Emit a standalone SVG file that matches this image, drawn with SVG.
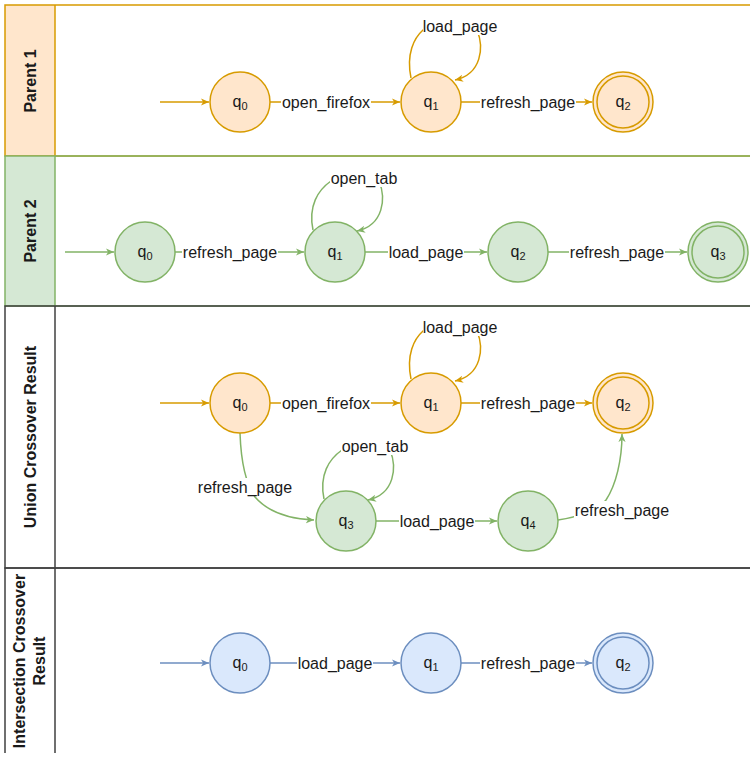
<svg xmlns="http://www.w3.org/2000/svg" width="750" height="758" viewBox="0 0 750 758">
<style>
text{font-family:"Liberation Sans",Arial,sans-serif;fill:#1a1a1a}
.hdr{font-size:16px;font-weight:bold;text-anchor:middle}
.lbl{font-size:16px;text-anchor:middle}
.st{font-size:16px;text-anchor:middle}
.sub{font-size:11px}
.lb{fill:#ffffff;stroke:none}
.o{fill:#ffe6cc;stroke:#d79b00;stroke-width:1.5}
.g{fill:#d5e8d4;stroke:#82b366;stroke-width:1.5}
.b{fill:#dae8fc;stroke:#6c8ebf;stroke-width:1.5}
.in{fill:none}
.eo{fill:none;stroke:#d79b00;stroke-width:1.5;marker-end:url(#ao)}
.eg{fill:none;stroke:#82b366;stroke-width:1.5;marker-end:url(#ag)}
.eb{fill:none;stroke:#6c8ebf;stroke-width:1.5;marker-end:url(#ab)}
.lane{fill:none;stroke-width:1.5}
</style>
<defs>
<marker id="ao" viewBox="0 0 10 10" markerWidth="9" markerHeight="9" markerUnits="userSpaceOnUse" refX="9" refY="5" orient="auto"><path d="M0,1 L9,5 L0,9 L2.5,5 Z" fill="#d79b00"/></marker>
<marker id="ag" viewBox="0 0 10 10" markerWidth="9" markerHeight="9" markerUnits="userSpaceOnUse" refX="9" refY="5" orient="auto"><path d="M0,1 L9,5 L0,9 L2.5,5 Z" fill="#82b366"/></marker>
<marker id="ab" viewBox="0 0 10 10" markerWidth="9" markerHeight="9" markerUnits="userSpaceOnUse" refX="9" refY="5" orient="auto"><path d="M0,1 L9,5 L0,9 L2.5,5 Z" fill="#6c8ebf"/></marker>
</defs>
<rect x="0" y="0" width="750" height="758" fill="#ffffff"/>

<g id="lane-parent1">
<rect x="5" y="5" width="50" height="151" fill="#ffe6cc"/>
<rect class="lane" x="5" y="5" width="760" height="151" stroke="#d79b00"/>
<line x1="55" y1="5" x2="55" y2="156" stroke="#d79b00" stroke-width="1.5"/>
<text class="hdr" transform="translate(36,81) rotate(-90)">Parent 1</text>
</g>
<g id="lane-parent2">
<rect x="5" y="156" width="50" height="150" fill="#d5e8d4"/>
<rect class="lane" x="5" y="156" width="760" height="150" stroke="#82b366"/>
<line x1="55" y1="156" x2="55" y2="306" stroke="#82b366" stroke-width="1.5"/>
<text class="hdr" transform="translate(36,231) rotate(-90)">Parent 2</text>
</g>
<g id="lane-union">
<rect class="lane" x="5" y="306" width="760" height="262" stroke="#404040"/>
<line x1="55" y1="306" x2="55" y2="568" stroke="#404040" stroke-width="1.5"/>
<text class="hdr" transform="translate(36,437) rotate(-90)">Union Crossover Result</text>
</g>
<g id="lane-intersection">
<path d="M5 753 L5 568 L760 568 M55 568 L55 753" fill="none" stroke="#404040" stroke-width="1.5"/>
<text class="hdr" transform="translate(25,661) rotate(-90)">Intersection Crossover</text>
<text class="hdr" transform="translate(45,661) rotate(-90)">Result</text>
</g>

<g id="connectors">
<!-- Parent 1 -->
<line class="eo" x1="160" y1="102" x2="209" y2="102"/>
<line class="eo" x1="270" y1="102" x2="400" y2="102"/>
<line class="eo" x1="461" y1="102" x2="592" y2="102"/>
<path class="eo" d="M411 78 C406 54 414 38 423 30 L477 30 C484 47 482 74 455 80"/>
<!-- Parent 2 -->
<line class="eg" x1="65" y1="252" x2="114" y2="252"/>
<line class="eg" x1="175" y1="252" x2="304" y2="252"/>
<line class="eg" x1="365" y1="252" x2="487" y2="252"/>
<line class="eg" x1="548" y1="252" x2="687" y2="252"/>
<path class="eg" d="M313 230 C308 206 318 190 331 181 L379 181 C386 198 384 225 357 231"/>
<!-- Union -->
<line class="eo" x1="160" y1="403" x2="209" y2="403"/>
<line class="eo" x1="270" y1="403" x2="400" y2="403"/>
<line class="eo" x1="461" y1="403" x2="592" y2="403"/>
<path class="eo" d="M411 379 C406 355 414 339 423 331 L477 331 C484 348 482 375 455 381"/>
<path class="eg" d="M240 433 C241 462 246 484 255 497 C268 512 290 519 314 520"/>
<path class="eg" d="M324 499 C319 475 329 459 342 450 L390 450 C397 467 395 494 368 500"/>
<line class="eg" x1="376" y1="521" x2="497" y2="521"/>
<path class="eg" d="M558 520 C580 517 600 508 606 500 C616 485 622 460 622 434"/>
<!-- Intersection -->
<line class="eb" x1="160" y1="663" x2="209" y2="663"/>
<line class="eb" x1="270" y1="663" x2="400" y2="663"/>
<line class="eb" x1="461" y1="663" x2="592" y2="663"/>

<!-- labels -->
<rect class="lb" x="281" y="93" width="90" height="18"/><text class="lbl" x="326" y="108">open_firefox</text>
<rect class="lb" x="480" y="93" width="96" height="18"/><text class="lbl" x="528" y="108">refresh_page</text>
<rect class="lb" x="423" y="17" width="75" height="18"/><text class="lbl" x="460" y="32">load_page</text>

<rect class="lb" x="182" y="243" width="96" height="18"/><text class="lbl" x="230" y="258">refresh_page</text>
<rect class="lb" x="388" y="243" width="76" height="18"/><text class="lbl" x="426" y="258">load_page</text>
<rect class="lb" x="569" y="243" width="96" height="18"/><text class="lbl" x="617" y="258">refresh_page</text>
<rect class="lb" x="330" y="169" width="68" height="18"/><text class="lbl" x="364" y="184">open_tab</text>

<rect class="lb" x="281" y="394" width="90" height="18"/><text class="lbl" x="326" y="409">open_firefox</text>
<rect class="lb" x="480" y="394" width="96" height="18"/><text class="lbl" x="528" y="409">refresh_page</text>
<rect class="lb" x="423" y="318" width="75" height="18"/><text class="lbl" x="460" y="333">load_page</text>
<rect class="lb" x="197" y="478" width="96" height="18"/><text class="lbl" x="245" y="493">refresh_page</text>
<rect class="lb" x="341" y="437" width="68" height="18"/><text class="lbl" x="375" y="452">open_tab</text>
<rect class="lb" x="399" y="512" width="76" height="18"/><text class="lbl" x="437" y="527">load_page</text>
<rect class="lb" x="574" y="501" width="96" height="18"/><text class="lbl" x="622" y="516">refresh_page</text>

<rect class="lb" x="297" y="654" width="76" height="18"/><text class="lbl" x="335" y="669">load_page</text>
<rect class="lb" x="480" y="654" width="96" height="18"/><text class="lbl" x="528" y="669">refresh_page</text>
</g>

<g id="p1-q0"><circle class="o" cx="240" cy="102" r="30"/><text class="st" x="240" y="107">q<tspan class="sub" dy="3">0</tspan></text></g>
<g id="p1-q1"><circle class="o" cx="431" cy="102" r="30"/><text class="st" x="431" y="107">q<tspan class="sub" dy="3">1</tspan></text></g>
<g id="p1-q2"><circle class="o" cx="623" cy="102" r="30"/><circle class="o in" cx="623" cy="102" r="26"/><text class="st" x="623" y="107">q<tspan class="sub" dy="3">2</tspan></text></g>

<g id="p2-q0"><circle class="g" cx="145" cy="252" r="30"/><text class="st" x="145" y="257">q<tspan class="sub" dy="3">0</tspan></text></g>
<g id="p2-q1"><circle class="g" cx="335" cy="252" r="30"/><text class="st" x="335" y="257">q<tspan class="sub" dy="3">1</tspan></text></g>
<g id="p2-q2"><circle class="g" cx="518" cy="252" r="30"/><text class="st" x="518" y="257">q<tspan class="sub" dy="3">2</tspan></text></g>
<g id="p2-q3"><circle class="g" cx="718" cy="252" r="30"/><circle class="g in" cx="718" cy="252" r="26"/><text class="st" x="718" y="257">q<tspan class="sub" dy="3">3</tspan></text></g>

<g id="u-q0"><circle class="o" cx="240" cy="403" r="30"/><text class="st" x="240" y="408">q<tspan class="sub" dy="3">0</tspan></text></g>
<g id="u-q1"><circle class="o" cx="431" cy="403" r="30"/><text class="st" x="431" y="408">q<tspan class="sub" dy="3">1</tspan></text></g>
<g id="u-q2"><circle class="o" cx="623" cy="403" r="30"/><circle class="o in" cx="623" cy="403" r="26"/><text class="st" x="623" y="408">q<tspan class="sub" dy="3">2</tspan></text></g>
<g id="u-q3"><circle class="g" cx="346" cy="521" r="30"/><text class="st" x="346" y="526">q<tspan class="sub" dy="3">3</tspan></text></g>
<g id="u-q4"><circle class="g" cx="528" cy="521" r="30"/><text class="st" x="528" y="526">q<tspan class="sub" dy="3">4</tspan></text></g>

<g id="i-q0"><circle class="b" cx="240" cy="663" r="30"/><text class="st" x="240" y="668">q<tspan class="sub" dy="3">0</tspan></text></g>
<g id="i-q1"><circle class="b" cx="431" cy="663" r="30"/><text class="st" x="431" y="668">q<tspan class="sub" dy="3">1</tspan></text></g>
<g id="i-q2"><circle class="b" cx="623" cy="663" r="30"/><circle class="b in" cx="623" cy="663" r="26"/><text class="st" x="623" y="668">q<tspan class="sub" dy="3">2</tspan></text></g>
</svg>
